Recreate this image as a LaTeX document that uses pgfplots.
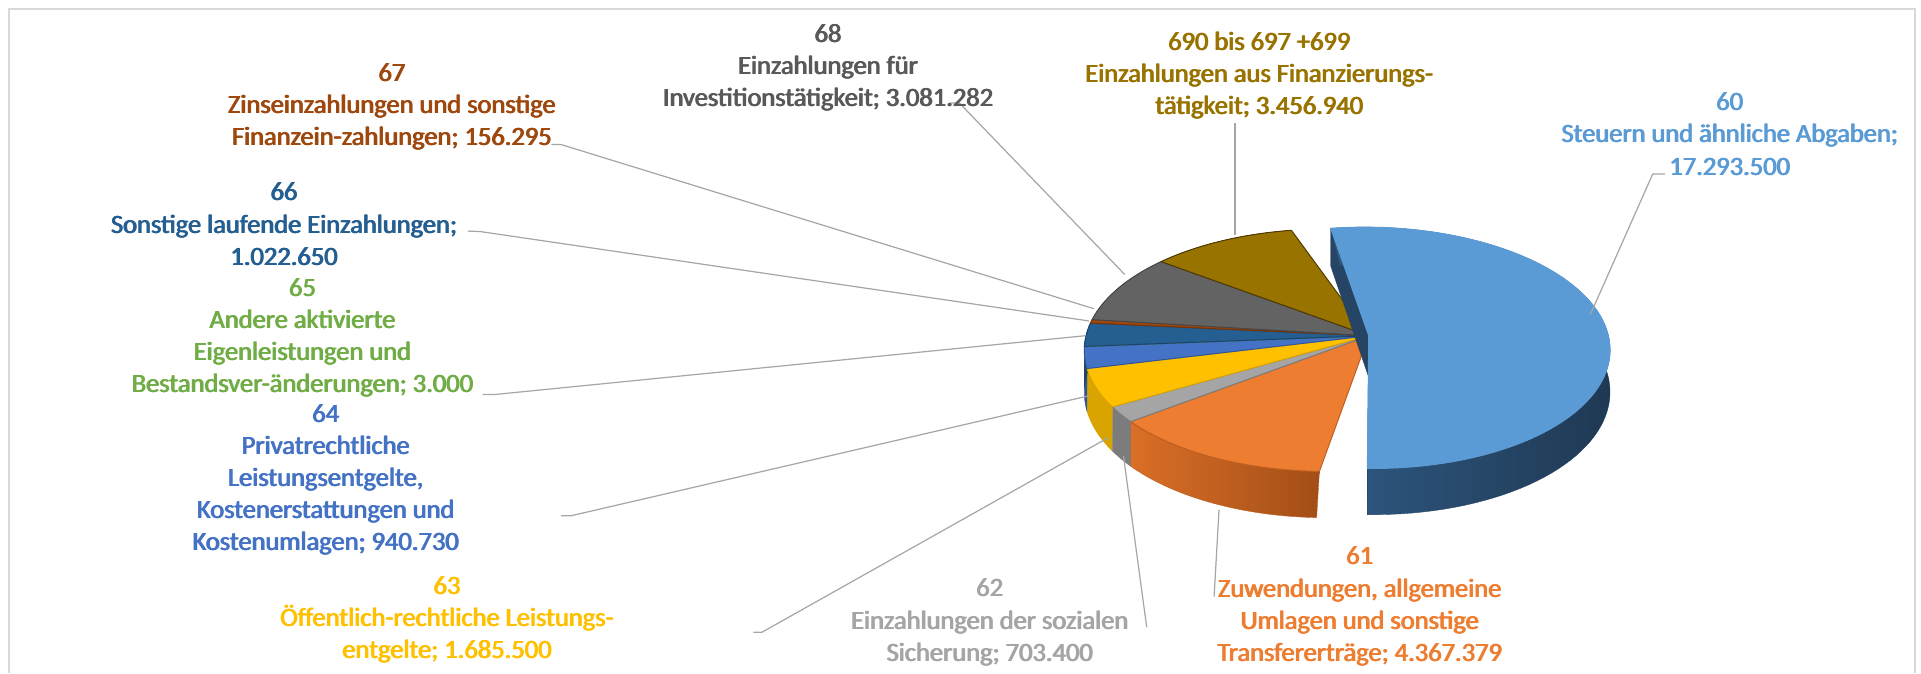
\documentclass[border=0pt]{standalone}
\usepackage{pgfplots}
\pgfplotsset{compat=1.18}
\usepackage{fontspec}
\setmainfont{Carlito}
\definecolor{cA}{HTML}{5B9BD5}\definecolor{sA}{HTML}{264463}
\definecolor{cB}{HTML}{ED7D31}\definecolor{sB}{HTML}{BF5E1E}
\definecolor{cC}{HTML}{A5A5A5}\definecolor{sC}{HTML}{7C7C7C}
\definecolor{cD}{HTML}{FFC000}\definecolor{sD}{HTML}{D9A300}
\definecolor{cE}{HTML}{4472C4}\definecolor{sE}{HTML}{30569A}
\definecolor{cF}{HTML}{70AD47}\definecolor{sF}{HTML}{567F36}
\definecolor{cG}{HTML}{255E91}\definecolor{sG}{HTML}{1A446B}
\definecolor{cH}{HTML}{9E480E}\definecolor{sH}{HTML}{73340A}
\definecolor{cI}{HTML}{636363}\definecolor{sI}{HTML}{474747}
\definecolor{cJ}{HTML}{997300}\definecolor{sJ}{HTML}{4D3A00}
\definecolor{sBl}{HTML}{DA6F27}\definecolor{sBr}{HTML}{A24E17}
\definecolor{sAl}{HTML}{2F5882}\definecolor{sAr}{HTML}{1F3953}
\definecolor{tI}{HTML}{595959}
\definecolor{leadgray}{HTML}{A6A6A6}
\definecolor{framegray}{HTML}{D9D9D9}
% values
\def\vA{17293500}\def\vB{4367379}\def\vC{703400}\def\vD{1685500}\def\vE{940730}
\def\vF{3000}\def\vG{1022650}\def\vH{156295}\def\vI{3081282}\def\vJ{3456940}
\edef\tot{\fpeval{\vA+\vB+\vC+\vD+\vE+\vF+\vG+\vH+\vI+\vJ}}
\def\aA{99}
\edef\aB{\fpeval{round(\aA-360*\vA/\tot,4)}}
\edef\aC{\fpeval{round(\aB-360*\vB/\tot,4)}}
\edef\aD{\fpeval{round(\aC-360*\vC/\tot,4)}}
\edef\aE{\fpeval{round(\aD-360*\vD/\tot,4)}}
\edef\aF{\fpeval{round(\aE-360*\vE/\tot,4)}}
\edef\aG{\fpeval{round(\aF-360*\vF/\tot,4)}}
\edef\aH{\fpeval{round(\aG-360*\vG/\tot,4)}}
\edef\aI{\fpeval{round(\aH-360*\vH/\tot,4)}}
\edef\aJ{\fpeval{round(\aI-360*\vI/\tot,4)}}
\edef\aK{\fpeval{round(\aJ-360*\vJ/\tot,4)}}
% geometry (display pixels)
\def\Vx{1082}\def\Vy{276}\def\ra{196}\def\rq{-97.9}\def\kk{0.1}\def\TT{34}
% top of a slice: fill, draw, start, end, du, dw
\newcommand\slicetop[6]{%
 \edef\vxx{\fpeval{\Vx+\ra*(#5)/(1+\kk*(#6))}}%
 \edef\vyy{\fpeval{\Vy+\rq*(#6)/(1+\kk*(#6))}}%
 \addplot[fill=#1, draw=#2, line width=0.8pt, line join=round, domain={#4}:{#3}, samples=90, variable=\t]
 ({\Vx+\ra*(cos(\t)+(#5))/(1+\kk*(sin(\t)+(#6)))},
  {\Vy+\rq*(sin(\t)+(#6))/(1+\kk*(sin(\t)+(#6)))})
  -- (axis cs:\vxx,\vyy) -- cycle;}
% outer wall: style, start, end, du, dw
\newcommand\sliceside[5]{%
 \addplot[#1, line width=0.3pt, domain=0:2, samples=161, variable=\s]
 ({\Vx+\ra*(cos((#3)+((#2)-(#3))*(1-abs(1-\s)))+(#4))/(1+\kk*(sin((#3)+((#2)-(#3))*(1-abs(1-\s)))+(#5)))},
  {\Vy+(\rq*(sin((#3)+((#2)-(#3))*(1-abs(1-\s)))+(#5))+\TT*(\s>1))/(1+\kk*(sin((#3)+((#2)-(#3))*(1-abs(1-\s)))+(#5)))})
  -- cycle;}
% radial face: fill, angle, du, dw
\newcommand\radface[4]{%
 \edef\pax{\fpeval{\Vx+\ra*(#3)/(1+\kk*(#4))}}%
 \edef\pay{\fpeval{\Vy+\rq*(#4)/(1+\kk*(#4))}}%
 \edef\pby{\fpeval{\Vy+(\rq*(#4)+\TT)/(1+\kk*(#4))}}%
 \edef\pcx{\fpeval{\Vx+\ra*(cosd(#2)+(#3))/(1+\kk*(sind(#2)+(#4)))}}%
 \edef\pcy{\fpeval{\Vy+\rq*(sind(#2)+(#4))/(1+\kk*(sind(#2)+(#4)))}}%
 \edef\pdy{\fpeval{\Vy+(\rq*(sind(#2)+(#4))+\TT)/(1+\kk*(sind(#2)+(#4)))}}%
 \addplot[fill=#1, draw=#1, line width=0.3pt] coordinates {(\pax,\pay) (\pcx,\pcy) (\pcx,\pdy) (\pax,\pby)} -- cycle;}
\def\du{0.18}\def\dw{0.02}
\newcommand\lbl{\fontsize{21.6}{26.2}\selectfont}
% label drawn three times with small horizontal shifts to give a bold weight
\newcommand\lab[4]{%
 \node[align=center, text=#3, font=\lbl] at (axis cs:#1,#2) {#4};
 \node[align=center, text=#3, font=\lbl, xshift=0.45pt] at (axis cs:#1,#2) {#4};
 \node[align=center, text=#3, font=\lbl, xshift=0.9pt] at (axis cs:#1,#2) {#4};}
\begin{document}
\begin{tikzpicture}
\begin{axis}[scale only axis, width=1568pt, height=549pt,
  xmin=0, xmax=1568, ymin=0, ymax=549, y dir=reverse,
  hide axis, clip=false]
\addplot[draw=none] coordinates {(0,0) (1568,549)};
\addplot[color=framegray, line width=1.6pt] coordinates {(7.3,549) (7.3,7.3) (1563,7.3) (1563,549)};
% walls of the joined pie
\sliceside{left color=sBl, right color=sBr, draw=sB}{\aB}{\aC}{0}{0}
\sliceside{fill=sC, draw=sC}{\aC}{\aD}{0}{0}
\sliceside{fill=sD, draw=sD}{\aD}{\aE}{0}{0}
\sliceside{fill=sE, draw=sE}{\aE}{\aF}{0}{0}
\sliceside{fill=sF, draw=sF}{\aF}{\aG}{0}{0}
\sliceside{fill=sG, draw=sG}{\aG}{\aH}{0}{0}
\sliceside{fill=sH, draw=sH}{\aH}{\aI}{0}{0}
\sliceside{fill=sI, draw=sI}{\aI}{\aJ}{0}{0}
\sliceside{fill=sJ, draw=sJ}{\aJ}{\aK}{0}{0}
% tops
\slicetop{cB}{sB}{\aB}{\aC}{0}{0}
\slicetop{cC}{sC}{\aC}{\aD}{0}{0}
\slicetop{cD}{sD}{\aD}{\aE}{0}{0}
\slicetop{cE}{sE}{\aE}{\aF}{0}{0}
\slicetop{cF}{sF}{\aF}{\aG}{0}{0}
\slicetop{cG}{sG}{\aG}{\aH}{0}{0}
\slicetop{cH}{sH}{\aH}{\aI}{0}{0}
\slicetop{cI}{sI}{\aI}{\aJ}{0}{0}
\slicetop{cJ}{sJ}{\aJ}{\aK}{0}{0}
% exploded slice 60
\radface{sA}{\aA}{\du}{\dw}
\radface{sA}{\aB}{\du}{\dw}
\sliceside{left color=sAl, right color=sAr, draw=sA}{\aA}{\aB}{\du}{\dw}
\slicetop{cA}{cA}{\aA}{\aB}{\du}{\dw}
% leader lines
\addplot[color=leadgray, line width=1pt] coordinates {(1359,142) (1349,142) (1298,257)};
\addplot[color=leadgray, line width=1pt] coordinates {(995,416) (991,487)};
\addplot[color=leadgray, line width=1pt] coordinates {(936,512) (917,372)};
\addplot[color=leadgray, line width=1pt] coordinates {(615,516) (622,516) (905,357)};
\addplot[color=leadgray, line width=1pt] coordinates {(458,421) (466,421) (889,323)};
\addplot[color=leadgray, line width=1pt] coordinates {(394,322) (404,322) (886,274)};
\addplot[color=leadgray, line width=1pt] coordinates {(382,188.6) (392,189) (889,262)};
\addplot[color=leadgray, line width=1pt] coordinates {(450,118) (458,118) (893,252)};
\addplot[color=leadgray, line width=1pt] coordinates {(775,84) (783,84) (918,224)};
\addplot[color=leadgray, line width=1pt] coordinates {(1008,100) (1008,192)};
% labels
\lab{1411.5}{109.5}{cA}{60\\Steuern und ähnliche Abgaben;\\17.293.500}
\lab{1109.5}{495}{cB}{61\\Zuwendungen, allgemeine\\Umlagen und sonstige\\Transfererträge; 4.367.379}
\lab{807.5}{508}{cC}{62\\Einzahlungen der sozialen\\Sicherung; 703.400}
\lab{364.5}{506}{cD}{63\\Öffentlich-rechtliche Leistungs-\\entgelte; 1.685.500}
\lab{265.5}{391.5}{cE}{64\\Privatrechtliche\\Leistungsentgelte,\\Kostenerstattungen und\\Kostenumlagen; 940.730}
\lab{246.5}{275.5}{cF}{65\\Andere aktivierte\\Eigenleistungen und\\Bestandsver-änderungen; 3.000}
\lab{231.5}{183}{cG}{66\\Sonstige laufende Einzahlungen;\\1.022.650}
\lab{319.5}{87.5}{cH}{67\\Zinseinzahlungen und sonstige\\Finanzein-zahlungen; 156.295}
\lab{675.5}{55.5}{tI}{68\\Einzahlungen für\\Investitionstätigkeit; 3.081.282}
\lab{1027.5}{62}{cJ}{690 bis 697 +699\\Einzahlungen aus Finanzierungs-\\tätigkeit; 3.456.940}
\end{axis}
\end{tikzpicture}
\end{document}
